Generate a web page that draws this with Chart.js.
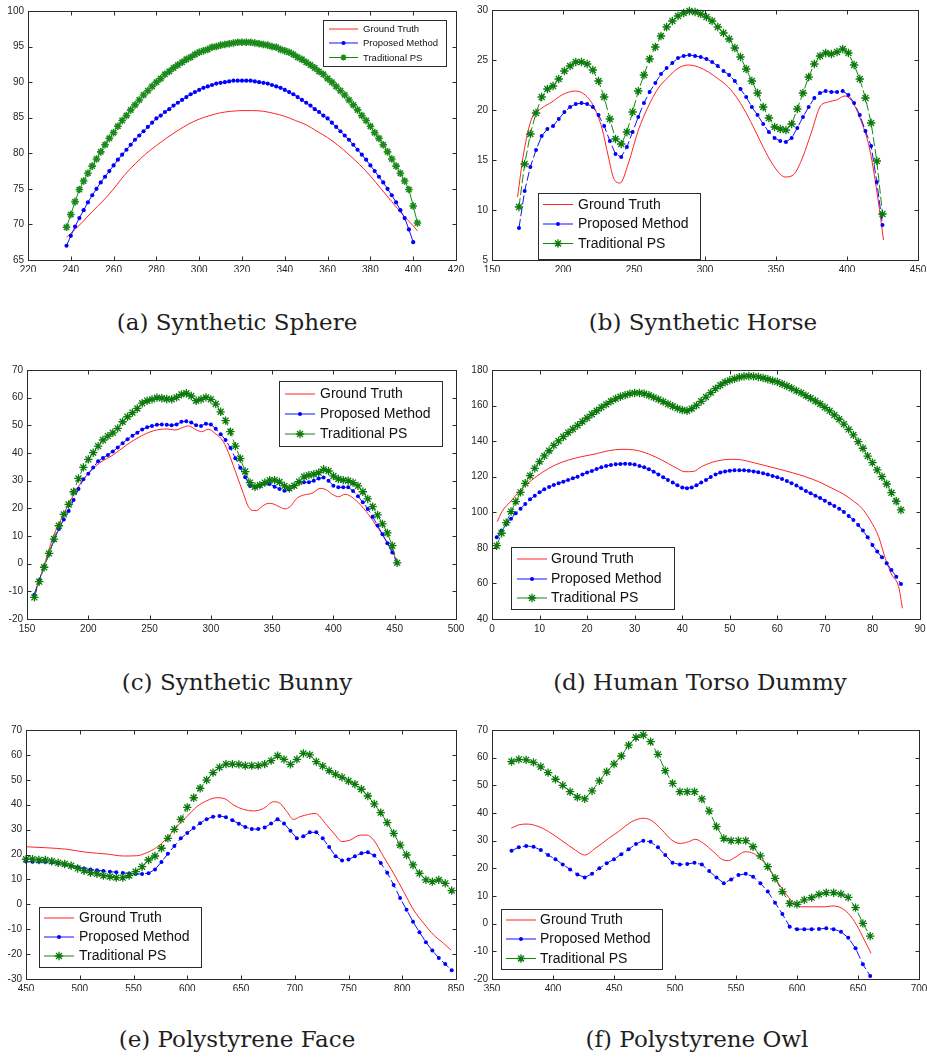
<!DOCTYPE html>
<html>
<head>
<meta charset="utf-8">
<script src="https://cdn.jsdelivr.net/npm/chart.js@4.4.1/dist/chart.umd.min.js"></script>
<style>
body { margin: 0; background: #fff; }
#page { position: relative; width: 927px; height: 1059px; overflow: hidden; background: #fff; }
.panel { position: absolute; }
.panel canvas { display: block; }
.cap { position: absolute; font-family: "DejaVu Serif", serif; font-size: 23px; line-height: 23px; color: #1e1e1e; white-space: nowrap; transform: translateX(-50%); }
</style>
</head>
<body>
<div id="page">
  <div class="panel" style="left:0;top:0"><canvas id="chart-a" width="465" height="272"></canvas></div>
  <div class="panel" style="left:465px;top:0"><canvas id="chart-b" width="462" height="272"></canvas></div>
  <div class="panel" style="left:0;top:360px"><canvas id="chart-c" width="465" height="280"></canvas></div>
  <div class="panel" style="left:465px;top:360px"><canvas id="chart-d" width="462" height="280"></canvas></div>
  <div class="panel" style="left:0;top:720px"><canvas id="chart-e" width="465" height="271"></canvas></div>
  <div class="panel" style="left:465px;top:720px"><canvas id="chart-f" width="462" height="271"></canvas></div>

  <div class="cap" style="left:237px;top:311px">(a) Synthetic Sphere</div>
  <div class="cap" style="left:703px;top:311px">(b) Synthetic Horse</div>
  <div class="cap" style="left:237px;top:671px">(c) Synthetic Bunny</div>
  <div class="cap" style="left:700px;top:671px">(d) Human Torso Dummy</div>
  <div class="cap" style="left:237px;top:1028px">(e) Polystyrene Face</div>
  <div class="cap" style="left:697px;top:1028px">(f) Polystyrene Owl</div>
</div>

<script>
/* global Chart */

const seriesNames = ["Ground Truth", "Proposed Method", "Traditional PS"];

// (a) Synthetic Sphere
const sphereX = [238, 240, 242, 244, 246, 248, 250, 252, 254, 256, 258, 260, 262, 264, 266, 268, 270, 272, 274, 276,
    278, 280, 282, 284, 286, 288, 290, 292, 294, 296, 298, 300, 302, 304, 306, 308, 310, 312, 314, 316, 318, 320,
    322, 324, 326, 328, 330, 332, 334, 336, 338, 340, 342, 344, 346, 348, 350, 352, 354, 356, 358, 360, 362, 364,
    366, 368, 370, 372, 374, 376, 378, 380, 382, 384, 386, 388, 390, 392, 394, 396, 398, 400, 402];
const sphereTruthX = [238, 242, 246, 250, 255, 260, 265, 270, 275, 280, 285, 290, 295, 300, 305, 310, 315, 320, 325,
    330, 335, 340, 345, 350, 355, 360, 365, 370, 375, 380, 385, 390, 395, 400, 402];
const sphereTruth = [68.2, 69.3, 70.5, 71.8, 73.3, 75.0, 76.9, 78.5, 79.9, 81.1, 82.2, 83.2, 84.1, 84.8, 85.3, 85.7,
    85.9, 86.0, 86.0, 85.9, 85.6, 85.2, 84.6, 84.0, 83.1, 82.2, 81.1, 79.8, 78.4, 76.8, 75.0, 73.2, 71.4, 69.8, 69.1];
const sphereProposed = [67.0, 68.4, 69.7, 70.9, 72.0, 73.1, 74.1, 75.0, 75.9, 76.7, 77.5, 78.3, 79.1, 79.8, 80.5,
    81.2, 81.9, 82.5, 83.1, 83.7, 84.3, 84.9, 85.3, 85.8, 86.2, 86.7, 87.1, 87.5, 87.9, 88.3, 88.6, 88.9, 89.2, 89.4,
    89.6, 89.8, 89.9, 90.0, 90.1, 90.2, 90.2, 90.2, 90.2, 90.2, 90.1, 90.0, 89.9, 89.8, 89.6, 89.4, 89.2, 88.9, 88.6,
    88.3, 87.9, 87.5, 87.1, 86.7, 86.2, 85.8, 85.3, 84.9, 84.3, 83.7, 83.1, 82.5, 81.9, 81.2, 80.5, 79.8, 79.1, 78.3,
    77.5, 76.7, 75.9, 75.0, 74.1, 73.1, 72.0, 70.9, 69.3, 67.5];
const sphereTraditional = [69.6, 71.4, 73.2, 74.9, 76.1, 77.2, 78.2, 79.2, 80.2, 81.2, 82.1, 82.9, 83.8, 84.6, 85.3,
    86.1, 86.8, 87.5, 88.2, 88.8, 89.4, 90.0, 90.5, 91.1, 91.5, 92.0, 92.4, 92.8, 93.2, 93.5, 93.9, 94.2, 94.4, 94.6,
    94.9, 95.0, 95.2, 95.3, 95.4, 95.5, 95.6, 95.6, 95.6, 95.6, 95.5, 95.4, 95.3, 95.2, 95.0, 94.9, 94.6, 94.4, 94.2,
    93.9, 93.5, 93.2, 92.8, 92.4, 92.0, 91.5, 91.1, 90.5, 90.0, 89.4, 88.8, 88.2, 87.5, 86.8, 86.1, 85.3, 84.6, 83.8,
    82.9, 82.1, 81.2, 80.2, 79.2, 78.2, 77.2, 76.1, 74.9, 72.6, 70.2];

// (b) Synthetic Horse
const horseX = [169, 173, 177, 181, 185, 189, 193, 197, 201, 205, 209, 213, 217, 221, 225, 229, 233, 237, 241, 245,
    249, 253, 257, 261, 265, 269, 273, 277, 281, 285, 289, 293, 297, 301, 305, 309, 313, 317, 321, 325, 329, 333,
    337, 341, 345, 349, 353, 357, 361, 365, 369, 373, 377, 381, 385, 389, 393, 397, 401, 405, 409, 413, 417, 421, 425];
const horseTruthX = [168, 172.3, 178.1, 185.2, 192.2, 199.2, 208.6, 215.6, 221.5, 227.4, 232, 235.6, 240.2, 246.1,
    253.1, 260.2, 267.2, 274.2, 281.3, 288.3, 295.3, 302.4, 309.4, 316.4, 323.5, 330.5, 337.5, 344.6, 351.6, 356.3,
    362.1, 368, 375, 380.9, 386.8, 392.6, 398.5, 404.3, 410.2, 416.1, 421.9, 425.7];
const horseTruth = [11.3, 15.7, 19.2, 20.2, 20.8, 21.5, 21.9, 21.5, 20.4, 18.2, 15.3, 13.2, 12.7, 14.7, 18.0, 20.4,
    22.2, 23.3, 24.2, 24.5, 24.3, 23.8, 23.1, 22.3, 21.0, 19.3, 17.3, 15.3, 13.8, 13.3, 13.5, 15.0, 17.8, 20.3, 20.8,
    21.0, 21.4, 20.7, 18.8, 16.0, 11.0, 7.0];
const horseProposed = [8.2, 11.9, 14.3, 16.0, 17.4, 18.1, 18.4, 19.1, 19.8, 20.3, 20.6, 20.7, 20.6, 20.3, 19.5, 18.4,
    16.9, 15.6, 15.3, 16.3, 17.8, 19.3, 20.7, 21.8, 22.7, 23.6, 24.2, 24.7, 25.2, 25.4, 25.5, 25.4, 25.3, 25.1, 24.8,
    24.4, 23.9, 23.5, 22.9, 22.1, 21.3, 20.3, 19.5, 18.6, 17.8, 17.2, 16.9, 16.8, 17.2, 18.2, 19.3, 20.3, 21.2, 21.7,
    21.9, 21.8, 21.8, 21.9, 21.5, 20.7, 19.5, 17.9, 16.4, 12.8, 8.5];
const horseTraditional = [10.3, 14.6, 17.6, 19.7, 21.3, 22.1, 22.4, 23.1, 23.9, 24.4, 24.8, 24.8, 24.6, 24.0, 22.9,
    21.3, 19.1, 17.1, 16.6, 17.8, 19.8, 21.9, 23.5, 25.1, 26.3, 27.4, 28.3, 28.9, 29.4, 29.7, 29.9, 29.8, 29.6, 29.3,
    28.9, 28.3, 27.7, 27.1, 26.2, 25.3, 24.1, 22.9, 21.7, 20.3, 19.2, 18.3, 18.1, 18.0, 18.6, 20.1, 21.7, 23.3, 24.6,
    25.4, 25.7, 25.6, 25.8, 26.1, 25.7, 24.5, 23.1, 21.2, 18.7, 14.9, 9.6];

// (c) Synthetic Bunny
const bunnyX = [156, 160, 164, 168, 172, 176, 180, 184, 188, 192, 196, 200, 204, 208, 212, 216, 220, 224, 228, 232,
    236, 240, 244, 248, 252, 256, 260, 264, 268, 272, 276, 280, 284, 288, 292, 296, 300, 304, 308, 312, 316, 320,
    324, 328, 332, 336, 340, 344, 348, 352, 356, 360, 364, 368, 372, 376, 380, 384, 388, 392, 396, 400, 404, 408,
    412, 416, 420, 424, 428, 432, 436, 440, 444, 448, 452];
const bunnyTruthX = [155.7, 163, 171.2, 179.4, 187.6, 194.4, 202.6, 209.4, 220.3, 231.2, 242.1, 253, 263.9, 270.7,
    277.5, 281.6, 288.4, 292.5, 297.9, 303.4, 310.2, 315.6, 321.1, 326.5, 330.6, 334.7, 337.4, 341.5, 347, 351,
    356.5, 360.6, 364.7, 370.1, 375.6, 382.4, 389.2, 393.3, 400.1, 404.2, 409.6, 416.4, 424.6, 432.8, 440.9, 447.7, 451.3];
const bunnyTruth = [-11.3, -2.0, 9.5, 17.5, 24.5, 29.5, 33.8, 36.5, 39.3, 42.9, 45.9, 48.0, 48.7, 48.3, 49.3, 49.8,
    48.3, 47.7, 48.6, 47.1, 44.1, 38.7, 32.0, 25.4, 20.6, 19.2, 19.2, 20.6, 21.8, 21.6, 20.4, 19.8, 20.6, 23.6, 24.8,
    25.4, 27.2, 26.9, 24.8, 24.2, 25.1, 23.6, 20.0, 15.2, 9.8, 4.9, 1.3];
const bunnyProposed = [-11.2, -6.0, -1.0, 3.5, 8.5, 12.5, 16.0, 19.0, 23.0, 27.0, 30.5, 32.5, 34.8, 37.0, 38.2, 39.3,
    40.5, 42.0, 43.5, 45.0, 46.2, 47.3, 48.5, 49.3, 49.8, 50.2, 50.3, 50.2, 50.0, 50.3, 51.3, 51.5, 51.0, 50.0, 49.8,
    50.6, 50.3, 48.8, 46.8, 44.7, 41.8, 38.1, 34.7, 31.2, 28.1, 27.6, 28.1, 29.0, 28.8, 27.8, 27.0, 26.4, 26.9, 28.1,
    29.3, 29.4, 29.4, 30.0, 30.8, 31.1, 30.0, 28.2, 27.6, 27.6, 27.6, 26.3, 24.4, 22.2, 19.8, 17.0, 13.8, 10.6, 7.4,
    4.0, 0.3];
const bunnyTraditional = [-12.2, -6.5, -1.3, 3.7, 8.9, 13.7, 17.8, 21.4, 26.0, 30.8, 34.8, 37.7, 40.1, 42.5, 44.7,
    46.1, 47.3, 48.9, 51.3, 53.1, 54.6, 56.1, 58.0, 58.9, 59.4, 60.0, 59.8, 59.5, 59.4, 60.1, 61.2, 61.6, 60.6, 58.9,
    59.4, 60.1, 59.4, 57.7, 54.9, 51.7, 47.7, 42.5, 38.0, 33.3, 29.3, 27.8, 28.4, 29.3, 30.2, 30.2, 29.5, 28.1, 27.2,
    28.2, 29.6, 31.4, 32.0, 32.3, 32.9, 34.1, 33.5, 31.7, 30.6, 30.2, 30.0, 29.3, 28.1, 26.0, 23.4, 20.6, 17.6, 14.4,
    11.1, 6.5, 0.3];

// (d) Human Torso Dummy
const torsoX = [1, 2, 3, 4, 5, 6, 7, 8, 9, 10, 11, 12, 13, 14, 15, 16, 17, 18, 19, 20, 21, 22, 23, 24, 25, 26, 27,
    28, 29, 30, 31, 32, 33, 34, 35, 36, 37, 38, 39, 40, 41, 42, 43, 44, 45, 46, 47, 48, 49, 50, 51, 52, 53, 54, 55,
    56, 57, 58, 59, 60, 61, 62, 63, 64, 65, 66, 67, 68, 69, 70, 71, 72, 73, 74, 75, 76, 77, 78, 79, 80, 81, 82, 83,
    84, 85, 86];
const torsoTruthX = [1.1, 2.1, 4.2, 6.3, 8.4, 10.5, 13.3, 16.1, 18.9, 21.7, 24.5, 27.3, 30.1, 32.9, 35.7, 38.5, 40.6,
    42.4, 44.1, 46.3, 48.4, 50.5, 52.6, 54.7, 57.5, 60.3, 63.1, 65.9, 68.7, 71.5, 73.6, 75.7, 77.8, 79.5, 81.3, 82.7,
    84.1, 85.5, 86.3];
const torsoTruth = [94.7, 100.4, 106.9, 113.5, 118.2, 122.3, 126.6, 129.4, 131.3, 132.8, 134.6, 135.4, 135.0, 132.8,
    129.4, 125.3, 122.8, 123.0, 125.7, 128.1, 129.4, 129.8, 129.4, 128.1, 126.2, 124.3, 122.3, 120.0, 117.2, 113.5,
    110.7, 106.9, 102.2, 95.7, 86.3, 74.1, 64.7, 58.2, 46.0];
const torsoProposed = [85.9, 89.7, 93.4, 96.4, 99.4, 102.0, 104.7, 107.3, 109.3, 111.2, 112.9, 114.2, 115.3, 116.3,
    117.2, 118.2, 119.1, 120.0, 121.2, 122.3, 123.2, 124.3, 125.3, 126.0, 126.6, 127.0, 127.2, 127.3, 127.2, 126.8,
    126.0, 125.3, 124.2, 122.8, 121.3, 119.7, 118.2, 116.7, 115.2, 114.0, 113.5, 114.0, 115.2, 116.7, 118.2, 119.8,
    121.2, 122.3, 123.0, 123.4, 123.6, 123.6, 123.6, 123.4, 123.0, 122.5, 121.9, 121.2, 120.4, 119.7, 118.7, 117.6,
    116.3, 115.0, 113.5, 112.0, 110.7, 109.3, 108.0, 106.5, 105.0, 103.5, 102.0, 100.2, 97.9, 95.7, 92.9, 89.7, 85.9,
    81.6, 77.9, 74.7, 71.3, 67.6, 63.8, 59.7];
const torsoTraditional = [81.2, 88.2, 94.2, 100.4, 106.0, 111.2, 116.3, 120.6, 124.7, 128.5, 131.7, 134.6, 137.6,
    140.1, 142.5, 144.8, 146.8, 148.9, 151.0, 153.0, 155.1, 157.1, 159.0, 160.7, 162.4, 163.9, 165.0, 165.9, 166.7,
    167.1, 167.1, 166.7, 165.8, 164.6, 163.5, 162.2, 160.9, 159.6, 158.4, 157.5, 157.1, 158.3, 160.1, 162.4, 164.8,
    167.3, 169.5, 171.4, 173.1, 174.2, 175.1, 175.9, 176.4, 176.6, 176.4, 176.1, 175.5, 174.8, 174.0, 173.3, 172.1,
    171.0, 169.7, 168.4, 167.1, 165.6, 164.1, 162.6, 160.9, 159.0, 157.0, 154.7, 152.3, 149.6, 146.6, 143.5, 139.7,
    136.0, 131.6, 127.9, 123.8, 120.0, 115.9, 111.0, 106.2, 101.3];

// (e) Polystyrene Face
const faceX = [450, 456, 462, 468, 474, 480, 486, 492, 498, 504, 510, 516, 522, 528, 534, 540, 546, 552, 558, 564,
    570, 576, 582, 588, 594, 600, 606, 612, 618, 624, 630, 636, 642, 648, 654, 660, 666, 672, 678, 684, 690, 696,
    702, 708, 714, 720, 726, 732, 738, 744, 750, 756, 762, 768, 774, 780, 786, 792, 798, 804, 810, 816, 822, 828,
    834, 840, 846];
const faceTruthX = [450, 469, 488, 506, 525, 540.6, 553, 562.3, 571.6, 581, 590.3, 599.6, 608.9, 618.2, 627.5, 635.3,
    643, 652.3, 661.6, 671, 680.3, 686.5, 692.7, 698.9, 705, 712.8, 719, 728.4, 737.7, 743.9, 751.6, 761, 767.1,
    773.4, 782.7, 792, 801.3, 810.6, 819.9, 829.2, 838.5, 845.4];
const faceTruth = [23.1, 22.7, 22.1, 20.9, 20.2, 19.4, 19.5, 20.7, 22.9, 26.5, 31.2, 35.2, 39.2, 41.6, 42.8, 42.3,
    39.9, 38.1, 37.5, 38.5, 41.2, 40.5, 37.2, 34.1, 35.2, 36.1, 36.5, 32.5, 27.8, 25.2, 25.8, 27.8, 27.8, 25.8, 19.1,
    12.4, 5.1, -2.3, -7.6, -12.3, -15.7, -18.4];
const faceProposed = [17.2, 17.1, 17.1, 17.0, 16.8, 16.4, 15.9, 15.3, 14.9, 14.4, 14.0, 13.7, 13.4, 13.1, 12.9, 12.6,
    12.4, 12.2, 12.2, 12.5, 14.0, 17.0, 20.3, 23.4, 26.5, 28.6, 30.6, 32.6, 34.2, 35.2, 35.5, 35.0, 33.8, 32.3, 31.0,
    30.2, 30.2, 30.8, 32.5, 34.2, 32.5, 29.5, 26.5, 27.3, 28.9, 28.9, 26.5, 23.0, 19.3, 17.6, 18.0, 19.3, 20.5, 20.9,
    19.6, 16.6, 12.7, 7.8, 2.5, -2.2, -7.0, -11.2, -15.2, -18.6, -21.6, -24.0, -26.5];
const faceTraditional = [18.1, 18.1, 17.8, 17.8, 17.3, 16.7, 16.2, 15.5, 14.4, 13.5, 12.7, 12.2, 11.5, 11.1, 10.7,
    10.7, 11.5, 13.1, 15.1, 17.8, 19.4, 22.5, 26.5, 30.1, 34.1, 38.9, 42.8, 46.6, 49.9, 52.9, 55.0, 56.3, 56.3, 56.2,
    55.7, 55.7, 55.7, 56.3, 57.7, 59.7, 58.2, 56.2, 58.2, 60.6, 60.0, 57.3, 55.5, 53.7, 52.2, 51.0, 49.5, 48.2, 46.2,
    43.5, 40.3, 36.8, 32.8, 28.5, 23.8, 19.8, 15.8, 12.4, 9.8, 9.1, 9.8, 8.4, 5.5];

// (f) Polystyrene Owl
const owlX = [366, 372, 378, 384, 390, 396, 402, 408, 414, 420, 426, 432, 438, 444, 450, 456, 462, 468, 474, 480,
    486, 492, 498, 504, 510, 516, 522, 528, 534, 540, 546, 552, 558, 564, 570, 576, 582, 588, 594, 600, 606, 612,
    618, 624, 630, 636, 642, 648, 654, 660];
const owlTruthX = [365.8, 371.8, 378.7, 386.9, 396.4, 407.3, 418.3, 425.9, 434.6, 445.5, 453.7, 464.7, 474.2, 481,
    489.2, 497.4, 504.2, 511.1, 516.5, 523.4, 531.5, 539.7, 543.8, 549.3, 557.5, 564.3, 571.1, 578, 584.8, 591.6,
    598.4, 603.9, 612.1, 623, 628.5, 635.3, 642.1, 648.9, 655.2, 660.7];
const owlTruth = [34.5, 35.7, 36.0, 35.3, 33.3, 30.0, 26.6, 24.8, 27.2, 30.8, 33.3, 36.9, 38.1, 37.2, 33.9, 30.2,
    29.0, 29.6, 30.5, 29.0, 26.0, 23.0, 22.8, 24.0, 26.0, 25.4, 23.0, 19.4, 14.6, 10.4, 7.0, 6.1, 6.1, 6.1, 6.4, 5.9,
    3.7, -0.5, -5.9, -10.7];
const owlProposed = [26.4, 27.6, 28.1, 27.8, 26.6, 24.8, 23.3, 21.4, 19.6, 17.8, 16.7, 18.0, 20.0, 21.8, 23.3, 25.1,
    26.9, 28.8, 30.0, 29.6, 27.6, 24.8, 22.0, 21.4, 21.6, 22.0, 21.4, 19.0, 16.7, 14.6, 16.0, 17.6, 18.0, 17.0, 14.6,
    11.6, 7.6, 3.5, -1.1, -2.0, -2.0, -2.0, -1.9, -1.7, -2.0, -2.9, -5.1, -8.9, -14.7, -18.9];
const owlTraditional = [58.6, 59.4, 59.2, 58.3, 56.7, 54.6, 52.2, 50.0, 47.7, 45.7, 45.1, 48.0, 51.6, 54.9, 57.7,
    60.6, 64.5, 67.3, 68.2, 65.8, 61.2, 55.3, 50.7, 47.7, 47.7, 47.7, 45.1, 40.7, 35.1, 30.8, 30.0, 30.0, 30.0, 27.8,
    24.5, 20.6, 16.4, 11.6, 7.3, 7.0, 8.6, 9.4, 10.6, 11.2, 11.2, 10.7, 9.5, 5.8, 0.1, -4.5];

const tickFont = { family: "Arial, 'Liberation Sans', sans-serif", size: 10 };
const tickColor = "#262626";
const frameColor = "#2b2b2b";

// axes box with inward ticks on all four sides, like a matlab figure
const matlabFrame = {
    id: "matlabFrame",
    afterDatasetsDraw(chart) {
        const ctx = chart.ctx;
        const a = chart.chartArea;
        const l = Math.round(a.left) + 0.5, r = Math.round(a.right) + 0.5;
        const t = Math.round(a.top) + 0.5, b = Math.round(a.bottom) + 0.5;
        ctx.save();
        ctx.strokeStyle = frameColor;
        ctx.lineWidth = 1;
        ctx.strokeRect(l, t, r - l, b - t);
        ctx.beginPath();
        const xs = chart.scales.x, ys = chart.scales.y;
        xs.ticks.forEach(tk => {
            if (tk.value <= xs.min || tk.value >= xs.max) return;
            const px = Math.round(xs.getPixelForValue(tk.value)) + 0.5;
            ctx.moveTo(px, b); ctx.lineTo(px, b - 4);
            ctx.moveTo(px, t); ctx.lineTo(px, t + 4);
        });
        ys.ticks.forEach(tk => {
            if (tk.value <= ys.min || tk.value >= ys.max) return;
            const py = Math.round(ys.getPixelForValue(tk.value)) + 0.5;
            ctx.moveTo(l, py); ctx.lineTo(l + 4, py);
            ctx.moveTo(r, py); ctx.lineTo(r - 4, py);
        });
        ctx.stroke();
        ctx.restore();
    }
};

// legend drawn as a boxed inset inside the axes
const boxLegend = {
    id: "boxLegend",
    afterDraw(chart, args, opts) {
        if (!opts.x && opts.x !== 0) return;
        const ctx = chart.ctx;
        ctx.save();
        ctx.fillStyle = "#fff";
        ctx.fillRect(opts.x, opts.y, opts.w, opts.h);
        ctx.strokeStyle = frameColor;
        ctx.lineWidth = 1;
        ctx.strokeRect(Math.round(opts.x) + 0.5, Math.round(opts.y) + 0.5, opts.w, opts.h);
        ctx.font = opts.font + "px Arial, 'Liberation Sans', sans-serif";
        ctx.textBaseline = "middle";
        chart.data.datasets.forEach((ds, i) => {
            const y = opts.y + opts.rows[i];
            const x0 = opts.x + opts.lx, x1 = x0 + opts.lw;
            ctx.strokeStyle = ds.borderColor;
            ctx.lineWidth = ds.borderWidth;
            ctx.setLineDash([]);
            ctx.beginPath();
            ctx.moveTo(x0, y); ctx.lineTo(x1, y);
            ctx.stroke();
            if (ds.pointRadius > 0) {
                ctx.fillStyle = ds.pointBackgroundColor;
                ctx.strokeStyle = ds.pointBorderColor;
                ctx.lineWidth = ds.pointBorderWidth;
                Chart.helpers.drawPoint(ctx, {
                    pointStyle: ds.pointStyle, radius: Math.min(ds.pointRadius, opts.maxMarker),
                    borderWidth: ds.pointBorderWidth, rotation: 0
                }, (x0 + x1) / 2, y);
            }
            ctx.fillStyle = "#111";
            ctx.fillText(seriesNames[i], opts.x + opts.tx, y + 0.5);
        });
        ctx.restore();
    }
};

function pts(xs, ys) {
    return ys.map((y, i) => ({ x: xs[i], y: y }));
}

function makeChart(id, cfg) {
    const canvas = document.getElementById(id);
    const W = canvas.width, H = canvas.height;
    const area = cfg.area;
    const dash = cfg.dashed ? [9, 3] : [];

    return new Chart(canvas, {
        type: "line",
        data: {
            datasets: [
                {
                    data: pts(cfg.truthX, cfg.truth), borderColor: "#ff2424", borderWidth: 1,
                    pointRadius: 0, cubicInterpolationMode: "monotone", order: 2, clip: false
                },
                {
                    data: pts(cfg.markX, cfg.proposed), borderColor: "#1010ff", borderWidth: 1, borderDash: dash,
                    pointStyle: "circle", pointRadius: cfg.small ? 2.1 : 2, pointBackgroundColor: "#0000ff",
                    pointBorderColor: "#0000ff", pointBorderWidth: 0, order: 1, clip: false
                },
                {
                    data: pts(cfg.markX, cfg.traditional), borderColor: "#118811", borderWidth: 1, borderDash: dash,
                    pointStyle: "star", pointRadius: cfg.small ? 3.8 : 4.2, pointBackgroundColor: "#0b7a0b",
                    pointBorderColor: cfg.small ? "#1b8a1b" : "#0b7a0b", pointBorderWidth: cfg.small ? 1.6 : 1.3,
                    order: 0, clip: false
                }
            ]
        },
        options: {
            responsive: false,
            animation: false,
            devicePixelRatio: 1,
            layout: { padding: { left: 0, top: area.top, right: W - area.right, bottom: 0 } },
            plugins: {
                legend: { display: false },
                tooltip: { enabled: false },
                boxLegend: cfg.legend
            },
            elements: { line: { fill: false } },
            scales: {
                x: {
                    type: "linear", min: cfg.xr[0], max: cfg.xr[1],
                    ticks: { stepSize: cfg.xr[2], font: tickFont, color: tickColor, padding: 4, maxRotation: 0, autoSkip: false },
                    grid: { display: false, drawTicks: false },
                    border: { display: false },
                    afterFit(s) { s.height = H - area.bottom; s.paddingLeft = 0; s.paddingRight = 0; }
                },
                y: {
                    type: "linear", min: cfg.yr[0], max: cfg.yr[1],
                    ticks: { stepSize: cfg.yr[2], font: tickFont, color: tickColor, padding: 4, autoSkip: false },
                    grid: { display: false, drawTicks: false },
                    border: { display: false },
                    afterFit(s) { s.width = area.left; s.paddingTop = 0; s.paddingBottom = 0; }
                }
            }
        },
        plugins: [matlabFrame, boxLegend]
    });
}

makeChart("chart-a", {
    area: { left: 28, top: 11, right: 456, bottom: 260 },
    xr: [220, 420, 20], yr: [65, 100, 5], small: true, dashed: false,
    truthX: sphereTruthX, truth: sphereTruth, markX: sphereX, proposed: sphereProposed, traditional: sphereTraditional,
    legend: { x: 323, y: 20, w: 123, h: 46, rows: [9, 23, 37.5], lx: 6, lw: 29, tx: 40, font: 9.5, maxMarker: 3 }
});

makeChart("chart-b", {
    area: { left: 27, top: 10, right: 453, bottom: 260 },
    xr: [150, 450, 50], yr: [5, 30, 5], dashed: true,
    truthX: horseTruthX, truth: horseTruth, markX: horseX, proposed: horseProposed, traditional: horseTraditional,
    legend: { x: 73, y: 193, w: 162, h: 66, rows: [11.5, 31, 50.5], lx: 5, lw: 30, tx: 40, font: 14, maxMarker: 5 }
});

makeChart("chart-c", {
    area: { left: 27, top: 10, right: 456, bottom: 259 },
    xr: [150, 500, 50], yr: [-20, 70, 10], dashed: true,
    truthX: bunnyTruthX, truth: bunnyTruth, markX: bunnyX, proposed: bunnyProposed, traditional: bunnyTraditional,
    legend: { x: 279, y: 21, w: 163, h: 65, rows: [13, 33, 53], lx: 6, lw: 30, tx: 41, font: 14, maxMarker: 5 }
});

makeChart("chart-d", {
    area: { left: 27, top: 10, right: 455, bottom: 259 },
    xr: [0, 90, 10], yr: [40, 180, 20], dashed: true,
    truthX: torsoTruthX, truth: torsoTruth, markX: torsoX, proposed: torsoProposed, traditional: torsoTraditional,
    legend: { x: 46, y: 187, w: 163, h: 62, rows: [12, 32, 51], lx: 6, lw: 30, tx: 40, font: 14, maxMarker: 5 }
});

makeChart("chart-e", {
    area: { left: 26, top: 10, right: 456, bottom: 259 },
    xr: [450, 850, 50], yr: [-30, 70, 10], dashed: true,
    truthX: faceTruthX, truth: faceTruth, markX: faceX, proposed: faceProposed, traditional: faceTraditional,
    legend: { x: 39, y: 187, w: 162, h: 60, rows: [11, 30, 49], lx: 5, lw: 30, tx: 40, font: 14, maxMarker: 5 }
});

makeChart("chart-f", {
    area: { left: 27, top: 10, right: 454, bottom: 259 },
    xr: [350, 700, 50], yr: [-20, 70, 10], dashed: true,
    truthX: owlTruthX, truth: owlTruth, markX: owlX, proposed: owlProposed, traditional: owlTraditional,
    legend: { x: 36, y: 189, w: 161, h: 60, rows: [11, 30, 49.5], lx: 5, lw: 30, tx: 39, font: 14, maxMarker: 5 }
});
</script>
</body>
</html>
